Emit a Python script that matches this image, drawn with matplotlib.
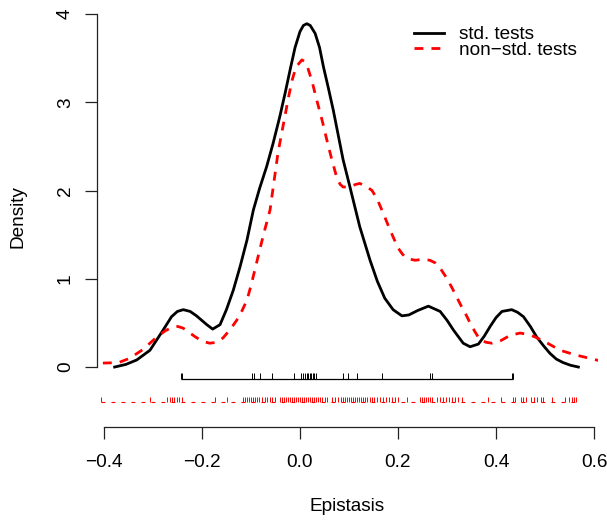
import numpy as np
import matplotlib
matplotlib.use('Agg')
import matplotlib.pyplot as plt

plt.rcParams['font.family'] = ['Liberation Sans', 'DejaVu Sans']
FS = 13.7

# density curves
std_x = [-0.378, -0.355, -0.333, -0.306, -0.279, -0.262, -0.250, -0.238, -0.224, -0.211,
         -0.190, -0.178, -0.163, -0.150, -0.136, -0.122, -0.108, -0.095, -0.082, -0.068,
         -0.055, -0.041, -0.030, -0.020, -0.010, 0.000, 0.007, 0.014, 0.021, 0.031,
         0.040, 0.048, 0.058, 0.068, 0.078, 0.088, 0.102, 0.122, 0.143, 0.158,
         0.173, 0.190, 0.208, 0.222, 0.240, 0.262, 0.286, 0.300, 0.313, 0.333,
         0.347, 0.364, 0.376, 0.388, 0.400, 0.412, 0.432, 0.444, 0.456, 0.470,
         0.483, 0.497, 0.510, 0.523, 0.537, 0.552, 0.568]
std_y = [0.0, 0.03, 0.08, 0.19, 0.42, 0.57, 0.63, 0.65, 0.63, 0.58,
         0.48, 0.43, 0.48, 0.65, 0.87, 1.14, 1.44, 1.78, 2.03, 2.27,
         2.53, 2.84, 3.11, 3.37, 3.62, 3.80, 3.87, 3.89, 3.87, 3.78,
         3.62, 3.40, 3.16, 2.91, 2.63, 2.35, 2.04, 1.59, 1.21, 0.97,
         0.78, 0.65, 0.58, 0.59, 0.64, 0.69, 0.63, 0.53, 0.42, 0.27,
         0.23, 0.26, 0.35, 0.46, 0.56, 0.63, 0.65, 0.62, 0.57, 0.46,
         0.34, 0.24, 0.155, 0.09, 0.05, 0.02, 0.0]

nonstd_x = [-0.402, -0.370, -0.347, -0.320, -0.292, -0.275, -0.261, -0.249, -0.238, -0.228,
            -0.213, -0.198, -0.184, -0.170, -0.157, -0.143, -0.129, -0.118, -0.108, -0.100,
            -0.092, -0.082, -0.072, -0.061, -0.053, -0.045, -0.038, -0.031, -0.024, -0.016,
            -0.008, 0.004, 0.010, 0.016, 0.025, 0.034, 0.045, 0.055, 0.065, 0.075,
            0.082, 0.088, 0.096, 0.105, 0.114, 0.122, 0.135, 0.147, 0.157, 0.167,
            0.176, 0.184, 0.192, 0.200, 0.209, 0.218, 0.235, 0.251, 0.265, 0.276,
            0.286, 0.298, 0.310, 0.320, 0.330, 0.339, 0.347, 0.357, 0.367, 0.380,
            0.392, 0.410, 0.429, 0.449, 0.465, 0.480, 0.505, 0.531, 0.560, 0.590,
            0.620]
nonstd_y = [0.045, 0.05, 0.10, 0.20, 0.34, 0.41, 0.45, 0.46, 0.44, 0.40,
            0.34, 0.29, 0.27, 0.28, 0.33, 0.42, 0.53, 0.64, 0.76, 0.92,
            1.10, 1.33, 1.55, 1.78, 2.10, 2.42, 2.63, 2.83, 3.04, 3.25,
            3.40, 3.48, 3.46, 3.39, 3.23, 3.03, 2.80, 2.57, 2.35, 2.15,
            2.07, 2.04, 2.04, 2.05, 2.07, 2.08, 2.05, 2.00, 1.91, 1.78,
            1.66, 1.55, 1.45, 1.35, 1.28, 1.23, 1.21, 1.22, 1.21, 1.18,
            1.12, 1.02, 0.90, 0.79, 0.68, 0.59, 0.50, 0.40, 0.31, 0.28,
            0.27, 0.30, 0.36, 0.385, 0.37, 0.34, 0.27, 0.19, 0.14, 0.10,
            0.06]

# observations shown as rugs below the curves
std_obs = [-0.242, -0.240, -0.097, -0.094, -0.081, -0.058, -0.012, 0.003, 0.006, 0.010,
           0.014, 0.016, 0.021, 0.023, 0.027, 0.029, 0.032, 0.088, 0.099, 0.117,
           0.167, 0.265, 0.269, 0.432, 0.435]
nonstd_obs = [-0.406, -0.306, -0.272, -0.265, -0.261, -0.256, -0.251, -0.247, -0.241, -0.173,
              -0.149, -0.116, -0.112, -0.108, -0.104, -0.100, -0.096, -0.092, -0.088, -0.083,
              -0.078, -0.071, -0.067, -0.061, -0.056, -0.051, -0.041, -0.037, -0.033, -0.029,
              -0.024, -0.020, -0.016, -0.012, -0.008, -0.004, 0.000, 0.004, 0.008, 0.012,
              0.016, 0.020, 0.024, 0.029, 0.033, 0.037, 0.041, 0.045, 0.051, 0.055,
              0.065, 0.071, 0.078, 0.084, 0.088, 0.092, 0.096, 0.100, 0.104, 0.108,
              0.112, 0.116, 0.120, 0.124, 0.129, 0.133, 0.137, 0.143, 0.147, 0.151,
              0.157, 0.163, 0.169, 0.176, 0.182, 0.188, 0.194, 0.200, 0.218, 0.245,
              0.249, 0.253, 0.257, 0.261, 0.265, 0.269, 0.280, 0.286, 0.292, 0.298,
              0.304, 0.310, 0.316, 0.322, 0.330, 0.384, 0.410, 0.435, 0.439, 0.450,
              0.456, 0.461, 0.471, 0.478, 0.484, 0.492, 0.496, 0.514, 0.541, 0.549,
              0.555, 0.559, 0.563]

xticks = [-0.4, -0.2, 0.0, 0.2, 0.4, 0.6]
xtick_labels = ['\u22120.4', '\u22120.2', '0.0', '0.2', '0.4', '0.6']
yticks = [0, 1, 2, 3, 4]
labels = ['std. tests', 'non\u2212std. tests']

fig = plt.figure(figsize=(6.07, 5.21), dpi=100)
W, H = 607, 521
ax = fig.add_axes([97 / W, (H - 426.7) / H, (598 - 97) / W, (426.7 - 7.3) / H])
ax.set_xlim(-0.414, 0.608)
ax.set_ylim(-0.676, 4.076)

ax.plot(std_x, std_y, color='black', lw=2, label=labels[0])
ax.plot(nonstd_x, nonstd_y, color='red', lw=2, dashes=(3.2, 2.9), label=labels[1])

# rugs
ax.vlines(std_obs, -0.136, -0.065, color='black', lw=0.7)
ax.hlines(-0.136, min(std_obs), max(std_obs), color='black', lw=0.9)
ax.vlines(nonstd_obs, -0.397, -0.34, color='red', lw=0.7)
ax.hlines(-0.397, min(nonstd_obs), max(nonstd_obs), color='red', lw=0.8,
          linestyles=(0, (3.5, 5.5)))

for s in ['top', 'right']:
    ax.spines[s].set_visible(False)
ax.spines['left'].set_bounds(0, 4)
ax.spines['bottom'].set_bounds(-0.4, 0.6)
for s in ['left', 'bottom']:
    ax.spines[s].set_linewidth(0.9)
    ax.spines[s].set_color('#222222')

ax.set_xticks(xticks)
ax.set_xticklabels(xtick_labels)
ax.set_yticks(yticks)
ax.tick_params(length=8.6, width=0.9, color='#222222', labelsize=FS)
ax.tick_params(axis='x', pad=11)
ax.tick_params(axis='y', pad=8, labelrotation=90)
for lbl in ax.get_yticklabels():
    lbl.set_verticalalignment('center')

ax.set_xlabel('Epistasis', fontsize=FS)
ax.xaxis.set_label_coords(0.5, -0.17)
ax.set_ylabel('Density', fontsize=FS)
ax.yaxis.set_label_coords(-0.14, 0.5)

ax.legend(loc='upper right', bbox_to_anchor=(0.958, 0.955), frameon=False,
          fontsize=FS, borderpad=0, borderaxespad=0, handlelength=1.58,
          handletextpad=0.79, labelspacing=-0.09)

fig.savefig('out.png', dpi=100)
